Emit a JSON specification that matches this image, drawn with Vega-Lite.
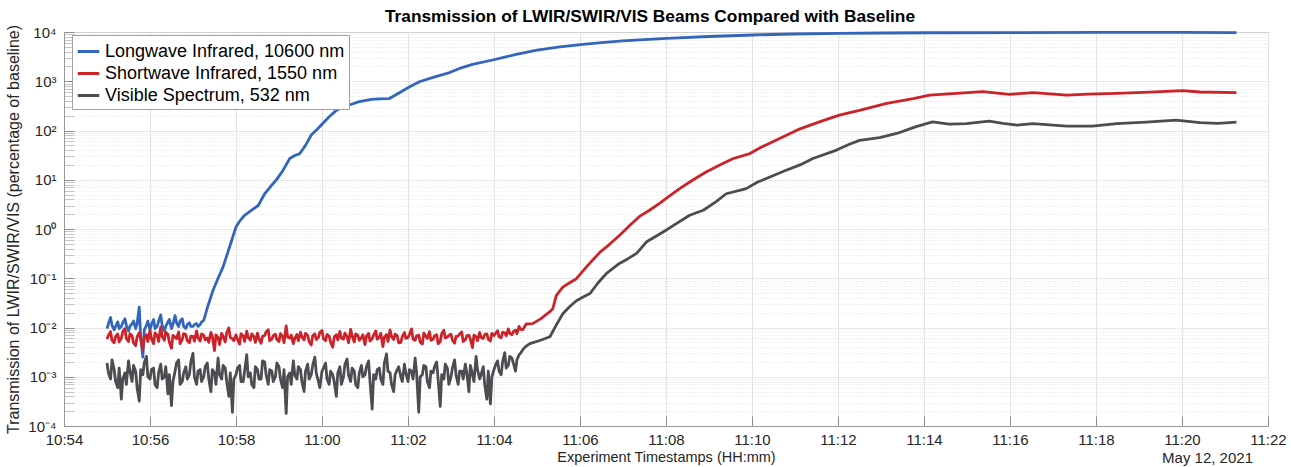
{
"$schema": "https://vega.github.io/schema/vega-lite/v6.json",
"width": 1204, "height": 394,
"autosize": {"type": "none"},
"padding": {"left": 64, "top": 32, "right": 23, "bottom": 41},
"background": "white",
"config": {"font": "Liberation Sans", "view": {"stroke": "#999999", "strokeWidth": 1}},
"title": {"text": "Transmission of LWIR/SWIR/VIS Beams Compared with Baseline", "fontSize": 17.3, "fontWeight": "bold", "color": "black", "anchor": "middle", "offset": -1, "dx": -16},
"layer": [
{
"data": {"values": [
{"t":"2021-05-12T10:55:00","L":0.0095,"S":0.0058,"V":0.0019},
{"t":"2021-05-12T10:55:05","L":0.016,"S":0.0082,"V":0.0009},
{"t":"2021-05-12T10:55:10","L":0.009,"S":0.0049,"V":0.0014},
{"t":"2021-05-12T10:55:15","L":0.013,"S":0.0074,"V":0.0006},
{"t":"2021-05-12T10:55:20","L":0.0105,"S":0.0061,"V":0.00035},
{"t":"2021-05-12T10:55:25","L":0.015,"S":0.0095,"V":0.0012},
{"t":"2021-05-12T10:55:30","L":0.0085,"S":0.0052,"V":0.0021},
{"t":"2021-05-12T10:55:35","L":0.012,"S":0.0068,"V":0.0008},
{"t":"2021-05-12T10:55:40","L":0.0095,"S":0.0043,"V":0.0013},
{"t":"2021-05-12T10:55:45","L":0.026,"S":0.0078,"V":0.00032},
{"t":"2021-05-12T10:55:50","L":0.0025,"S":0.0036,"V":0.0011},
{"t":"2021-05-12T10:55:55","L":0.011,"S":0.0071,"V":0.0026},
{"t":"2021-05-12T10:56:00","L":0.009,"S":0.0088,"V":0.0009},
{"t":"2021-05-12T10:56:05","L":0.0145,"S":0.0047,"V":0.0015},
{"t":"2021-05-12T10:56:10","L":0.0105,"S":0.0069,"V":0.0006},
{"t":"2021-05-12T10:56:15","L":0.018,"S":0.0102,"V":0.0018},
{"t":"2021-05-12T10:56:20","L":0.0085,"S":0.0055,"V":0.0010},
{"t":"2021-05-12T10:56:25","L":0.013,"S":0.0073,"V":0.00045},
{"t":"2021-05-12T10:56:30","L":0.0095,"S":0.0038,"V":0.00026},
{"t":"2021-05-12T10:56:35","L":0.0175,"S":0.0064,"V":0.0013},
{"t":"2021-05-12T10:56:40","L":0.0105,"S":0.0081,"V":0.0022},
{"t":"2021-05-12T10:56:45","L":0.015,"S":0.0057,"V":0.0008},
{"t":"2021-05-12T10:56:50","L":0.0095,"S":0.0072,"V":0.0016},
{"t":"2021-05-12T10:56:55","L":0.0125,"S":0.0049,"V":0.0011},
{"t":"2021-05-12T10:57:00","L":0.0105,"S":0.0066,"V":0.0030},
{"t":"2021-05-12T10:57:05","L":0.012,"S":0.0085,"V":0.0007},
{"t":"2021-05-12T10:57:10","L":0.0115,"S":0.0053,"V":0.0014},
{"t":"2021-05-12T10:57:15","L":0.014,"S":0.0070,"V":0.0010},
{"t":"2021-05-12T10:57:20","S":0.0061,"V":0.0019},
{"t":"2021-05-12T10:57:25","S":0.0079,"V":0.0005},
{"t":"2021-05-12T10:57:30","S":0.0034,"V":0.0012},
{"t":"2021-05-12T10:57:35","S":0.0062,"V":0.0024},
{"t":"2021-05-12T10:57:40","S":0.0076,"V":0.0009},
{"t":"2021-05-12T10:57:45","S":0.0051,"V":0.0015},
{"t":"2021-05-12T10:57:50","S":0.0098,"V":0.0004},
{"t":"2021-05-12T10:57:55","S":0.0059,"V":0.00019},
{"t":"2021-05-12T10:58:00","S":0.0071,"V":0.0011},
{"t":"2021-05-12T10:58:05","S":0.0046,"V":0.0017},
{"t":"2021-05-12T10:58:10","S":0.0068,"V":0.0008},
{"t":"2021-05-12T10:58:15","S":0.0084,"V":0.0028},
{"t":"2021-05-12T10:58:20","S":0.0055,"V":0.0012},
{"t":"2021-05-12T10:58:25","S":0.0065,"V":0.0006},
{"t":"2021-05-12T10:58:30","S":0.0077,"V":0.0014},
{"t":"2021-05-12T10:58:35","S":0.0048,"V":0.0009},
{"t":"2021-05-12T10:58:40","S":0.0069,"V":0.0020},
{"t":"2021-05-12T10:58:45","S":0.0090,"V":0.0007},
{"t":"2021-05-12T10:58:50","S":0.0058,"V":0.0013},
{"t":"2021-05-12T10:58:55","S":0.0073,"V":0.0010},
{"t":"2021-05-12T10:59:00","S":0.0052,"V":0.0016},
{"t":"2021-05-12T10:59:05","S":0.0066,"V":0.0006},
{"t":"2021-05-12T10:59:10","S":0.0108,"V":0.00018},
{"t":"2021-05-12T10:59:15","S":0.0061,"V":0.0012},
{"t":"2021-05-12T10:59:20","S":0.0047,"V":0.0021},
{"t":"2021-05-12T10:59:25","S":0.0072,"V":0.0009},
{"t":"2021-05-12T10:59:30","S":0.0080,"V":0.0014},
{"t":"2021-05-12T10:59:35","S":0.0056,"V":0.0005},
{"t":"2021-05-12T10:59:40","S":0.0069,"V":0.0018},
{"t":"2021-05-12T10:59:45","S":0.0044,"V":0.0011},
{"t":"2021-05-12T10:59:50","S":0.0074,"V":0.0025},
{"t":"2021-05-12T10:59:55","S":0.0063,"V":0.0008},
{"t":"2021-05-12T11:00:00","S":0.0087,"V":0.0013},
{"t":"2021-05-12T11:00:05","S":0.0054,"V":0.0019},
{"t":"2021-05-12T11:00:10","S":0.0067,"V":0.0007},
{"t":"2021-05-12T11:00:15","S":0.0040,"V":0.0011},
{"t":"2021-05-12T11:00:20","S":0.0071,"V":0.0004},
{"t":"2021-05-12T11:00:25","S":0.0083,"V":0.0016},
{"t":"2021-05-12T11:00:30","S":0.0058,"V":0.0010},
{"t":"2021-05-12T11:00:35","S":0.0065,"V":0.0023},
{"t":"2021-05-12T11:00:40","S":0.0092,"V":0.0008},
{"t":"2021-05-12T11:00:45","S":0.0051,"V":0.0013},
{"t":"2021-05-12T11:00:50","S":0.0070,"V":0.0006},
{"t":"2021-05-12T11:00:55","S":0.0062,"V":0.0017},
{"t":"2021-05-12T11:01:00","S":0.0045,"V":0.0011},
{"t":"2021-05-12T11:01:05","S":0.0076,"V":0.0021},
{"t":"2021-05-12T11:01:10","S":0.0059,"V":0.00022},
{"t":"2021-05-12T11:01:15","S":0.0085,"V":0.0009},
{"t":"2021-05-12T11:01:20","S":0.0064,"V":0.0015},
{"t":"2021-05-12T11:01:25","S":0.0041,"V":0.0007},
{"t":"2021-05-12T11:01:30","S":0.0072,"V":0.0029},
{"t":"2021-05-12T11:01:35","S":0.0089,"V":0.0012},
{"t":"2021-05-12T11:01:40","S":0.0057,"V":0.0005},
{"t":"2021-05-12T11:01:45","S":0.0068,"V":0.0014},
{"t":"2021-05-12T11:01:50","S":0.0050,"V":0.0010},
{"t":"2021-05-12T11:01:55","S":0.0079,"V":0.0018},
{"t":"2021-05-12T11:02:00","S":0.0063,"V":0.0008},
{"t":"2021-05-12T11:02:05","S":0.0094,"V":0.0013},
{"t":"2021-05-12T11:02:10","S":0.0055,"V":0.0024},
{"t":"2021-05-12T11:02:15","S":0.0070,"V":0.00019},
{"t":"2021-05-12T11:02:20","S":0.0046,"V":0.0011},
{"t":"2021-05-12T11:02:25","S":0.0066,"V":0.0016},
{"t":"2021-05-12T11:02:30","S":0.0082,"V":0.0006},
{"t":"2021-05-12T11:02:35","S":0.0058,"V":0.0012},
{"t":"2021-05-12T11:02:40","S":0.0071,"V":0.0020},
{"t":"2021-05-12T11:02:45","S":0.0052,"V":0.00025},
{"t":"2021-05-12T11:02:50","S":0.0088,"V":0.0009},
{"t":"2021-05-12T11:02:55","S":0.0064,"V":0.0015},
{"t":"2021-05-12T11:03:00","S":0.0073,"V":0.0010},
{"t":"2021-05-12T11:03:05","S":0.0048,"V":0.0022},
{"t":"2021-05-12T11:03:10","S":0.0067,"V":0.0007},
{"t":"2021-05-12T11:03:15","S":0.0081,"V":0.0013},
{"t":"2021-05-12T11:03:20","S":0.0056,"V":0.0018},
{"t":"2021-05-12T11:03:25","S":0.0070,"V":0.0005},
{"t":"2021-05-12T11:03:30","S":0.0039,"V":0.0011},
{"t":"2021-05-12T11:03:35","S":0.0065,"V":0.0026},
{"t":"2021-05-12T11:03:40","S":0.0079,"V":0.0009},
{"t":"2021-05-12T11:03:45","S":0.0060,"V":0.0016},
{"t":"2021-05-12T11:03:50","S":0.0074,"V":0.00035},
{"t":"2021-05-12T11:03:55","S":0.0053,"V":0.00028},
{"t":"2021-05-12T11:04:00","S":0.0069,"V":0.0014},
{"t":"2021-05-12T11:04:05","S":0.0086,"V":0.0021},
{"t":"2021-05-12T11:04:10","S":0.0062,"V":0.0011},
{"t":"2021-05-12T11:04:15","S":0.0078,"V":0.0031},
{"t":"2021-05-12T11:04:20","S":0.0094,"V":0.0017},
{"t":"2021-05-12T11:04:25","S":0.0071,"V":0.0024},
{"t":"2021-05-12T11:04:30","S":0.0088,"V":0.0013},
{"t":"2021-05-12T11:04:35","S":0.0105,"V":0.0028},
{"t":"2021-05-12T11:04:40","S":0.0090,"V":0.0035},
{"t":"2021-05-12T11:04:45","S":0.0118,"V":0.0042},
{"t":"2021-05-12T10:55:02","L":0.012,"S":0.0070,"V":0.0012},
{"t":"2021-05-12T10:55:07","L":0.011,"S":0.0055,"V":0.0022},
{"t":"2021-05-12T10:55:12","L":0.0105,"S":0.0066,"V":0.0008},
{"t":"2021-05-12T10:55:17","L":0.0095,"S":0.0051,"V":0.0015},
{"t":"2021-05-12T10:55:22","L":0.0125,"S":0.0083,"V":0.0009},
{"t":"2021-05-12T10:55:27","L":0.011,"S":0.0060,"V":0.0007},
{"t":"2021-05-12T10:55:32","L":0.0105,"S":0.0075,"V":0.0013},
{"t":"2021-05-12T10:55:37","L":0.0135,"S":0.0049,"V":0.0017},
{"t":"2021-05-12T10:55:42","L":0.012,"S":0.0065,"V":0.0006},
{"t":"2021-05-12T10:55:47","L":0.0065,"S":0.0058,"V":0.0014},
{"t":"2021-05-12T10:55:52","L":0.009,"S":0.0062,"V":0.0019},
{"t":"2021-05-12T10:55:57","L":0.0135,"S":0.0052,"V":0.0010},
{"t":"2021-05-12T10:56:02","L":0.0115,"S":0.0060,"V":0.0014},
{"t":"2021-05-12T10:56:07","L":0.0095,"S":0.0078,"V":0.0007},
{"t":"2021-05-12T10:56:12","L":0.0135,"S":0.0052,"V":0.0012},
{"t":"2021-05-12T10:56:17","L":0.011,"S":0.0066,"V":0.0009},
{"t":"2021-05-12T10:56:22","L":0.0105,"S":0.0080,"V":0.0016},
{"t":"2021-05-12T10:56:27","L":0.0145,"S":0.0050,"V":0.0011},
{"t":"2021-05-12T10:56:32","L":0.0115,"S":0.0069,"V":0.0008},
{"t":"2021-05-12T10:56:37","L":0.0125,"S":0.0059,"V":0.0019},
{"t":"2021-05-12T10:56:42","L":0.0135,"S":0.0047,"V":0.0007},
{"t":"2021-05-12T10:56:47","L":0.0105,"S":0.0075,"V":0.0012},
{"t":"2021-05-12T10:56:52","L":0.0115,"S":0.0054,"V":0.0009},
{"t":"2021-05-12T10:56:57","L":0.0105,"S":0.0067,"V":0.0020},
{"t":"2021-05-12T10:57:02","L":0.0115,"S":0.0053,"V":0.0010},
{"t":"2021-05-12T10:57:07","L":0.0105,"S":0.0062,"V":0.0013},
{"t":"2021-05-12T10:57:12","L":0.013,"S":0.0074,"V":0.0008},
{"t":"2021-05-12T10:57:17","S":0.0056,"V":0.0016},
{"t":"2021-05-12T10:57:22","S":0.0050,"V":0.0009},
{"t":"2021-05-12T10:57:27","S":0.0066,"V":0.0014},
{"t":"2021-05-12T10:57:32","S":0.0071,"V":0.0007},
{"t":"2021-05-12T10:57:37","S":0.0045,"V":0.0011},
{"t":"2021-05-12T10:57:42","S":0.0066,"V":0.0017},
{"t":"2021-05-12T10:57:47","S":0.0078,"V":0.0008},
{"t":"2021-05-12T10:57:52","S":0.0063,"V":0.0012},
{"t":"2021-05-12T10:57:57","S":0.0054,"V":0.0009},
{"t":"2021-05-12T10:58:02","S":0.0058,"V":0.0015},
{"t":"2021-05-12T10:58:07","S":0.0075,"V":0.0008},
{"t":"2021-05-12T10:58:12","S":0.0052,"V":0.0013},
{"t":"2021-05-12T10:58:17","S":0.0063,"V":0.0010},
{"t":"2021-05-12T10:58:22","S":0.0074,"V":0.0007},
{"t":"2021-05-12T10:58:27","S":0.0050,"V":0.0016},
{"t":"2021-05-12T10:58:32","S":0.0059,"V":0.0009},
{"t":"2021-05-12T10:58:37","S":0.0066,"V":0.0021},
{"t":"2021-05-12T10:58:42","S":0.0082,"V":0.0011},
{"t":"2021-05-12T10:58:47","S":0.0054,"V":0.0014},
{"t":"2021-05-12T10:58:52","S":0.0068,"V":0.0008},
{"t":"2021-05-12T10:58:57","S":0.0057,"V":0.0019},
{"t":"2021-05-12T10:59:02","S":0.0075,"V":0.0009},
{"t":"2021-05-12T10:59:07","S":0.0049,"V":0.0014},
{"t":"2021-05-12T10:59:12","S":0.0064,"V":0.0010},
{"t":"2021-05-12T10:59:17","S":0.0070,"V":0.0007},
{"t":"2021-05-12T10:59:22","S":0.0060,"V":0.0011},
{"t":"2021-05-12T10:59:27","S":0.0054,"V":0.0016},
{"t":"2021-05-12T10:59:32","S":0.0065,"V":0.0008},
{"t":"2021-05-12T10:59:37","S":0.0076,"V":0.0013},
{"t":"2021-05-12T10:59:42","S":0.0052,"V":0.0009},
{"t":"2021-05-12T10:59:47","S":0.0068,"V":0.0017},
{"t":"2021-05-12T10:59:52","S":0.0057,"V":0.0012},
{"t":"2021-05-12T10:59:57","S":0.0080,"V":0.0006},
{"t":"2021-05-12T11:00:02","S":0.0059,"V":0.0015},
{"t":"2021-05-12T11:00:07","S":0.0072,"V":0.0009},
{"t":"2021-05-12T11:00:12","S":0.0050,"V":0.0013},
{"t":"2021-05-12T11:00:17","S":0.0064,"V":0.0008},
{"t":"2021-05-12T11:00:22","S":0.0056,"V":0.0012},
{"t":"2021-05-12T11:00:27","S":0.0061,"V":0.0007},
{"t":"2021-05-12T11:00:32","S":0.0077,"V":0.0018},
{"t":"2021-05-12T11:00:37","S":0.0049,"V":0.0011},
{"t":"2021-05-12T11:00:42","S":0.0067,"V":0.0015},
{"t":"2021-05-12T11:00:47","S":0.0074,"V":0.0007},
{"t":"2021-05-12T11:00:52","S":0.0055,"V":0.0012},
{"t":"2021-05-12T11:00:57","S":0.0071,"V":0.0010},
{"t":"2021-05-12T11:01:02","S":0.0066,"V":0.0016},
{"t":"2021-05-12T11:01:07","S":0.0053,"V":0.0008},
{"t":"2021-05-12T11:01:12","S":0.0070,"V":0.0011},
{"t":"2021-05-12T11:01:17","S":0.0058,"V":0.0014},
{"t":"2021-05-12T11:01:22","S":0.0076,"V":0.0009},
{"t":"2021-05-12T11:01:27","S":0.0063,"V":0.0019},
{"t":"2021-05-12T11:01:32","S":0.0052,"V":0.0013},
{"t":"2021-05-12T11:01:37","S":0.0066,"V":0.0007},
{"t":"2021-05-12T11:01:42","S":0.0073,"V":0.0011},
{"t":"2021-05-12T11:01:47","S":0.0049,"V":0.0016},
{"t":"2021-05-12T11:01:52","S":0.0065,"V":0.0008},
{"t":"2021-05-12T11:01:57","S":0.0060,"V":0.0012},
{"t":"2021-05-12T11:02:02","S":0.0072,"V":0.0014},
{"t":"2021-05-12T11:02:07","S":0.0058,"V":0.0009},
{"t":"2021-05-12T11:02:12","S":0.0068,"V":0.0012},
{"t":"2021-05-12T11:02:17","S":0.0051,"V":0.0010},
{"t":"2021-05-12T11:02:22","S":0.0077,"V":0.0017},
{"t":"2021-05-12T11:02:27","S":0.0060,"V":0.0008},
{"t":"2021-05-12T11:02:32","S":0.0055,"V":0.0013},
{"t":"2021-05-12T11:02:37","S":0.0068,"V":0.0016},
{"t":"2021-05-12T11:02:42","S":0.0047,"V":0.0009},
{"t":"2021-05-12T11:02:47","S":0.0075,"V":0.0011},
{"t":"2021-05-12T11:02:52","S":0.0061,"V":0.0018},
{"t":"2021-05-12T11:02:57","S":0.0069,"V":0.0007},
{"t":"2021-05-12T11:03:02","S":0.0056,"V":0.0015},
{"t":"2021-05-12T11:03:07","S":0.0066,"V":0.0011},
{"t":"2021-05-12T11:03:12","S":0.0074,"V":0.0013},
{"t":"2021-05-12T11:03:17","S":0.0052,"V":0.0009},
{"t":"2021-05-12T11:03:22","S":0.0068,"V":0.0012},
{"t":"2021-05-12T11:03:27","S":0.0058,"V":0.0017},
{"t":"2021-05-12T11:03:32","S":0.0070,"V":0.0008},
{"t":"2021-05-12T11:03:37","S":0.0054,"V":0.0014},
{"t":"2021-05-12T11:03:42","S":0.0063,"V":0.0011},
{"t":"2021-05-12T11:03:47","S":0.0072,"V":0.0007},
{"t":"2021-05-12T11:03:52","S":0.0058,"V":0.0013},
{"t":"2021-05-12T11:03:57","S":0.0076,"V":0.0010},
{"t":"2021-05-12T11:04:02","S":0.0075,"V":0.0017},
{"t":"2021-05-12T11:04:07","S":0.0065,"V":0.0013},
{"t":"2021-05-12T11:04:12","S":0.0080,"V":0.0020},
{"t":"2021-05-12T11:04:17","S":0.0068,"V":0.0015},
{"t":"2021-05-12T11:04:22","S":0.0076,"V":0.0026},
{"t":"2021-05-12T11:04:27","S":0.0083,"V":0.0019},
{"t":"2021-05-12T11:04:32","S":0.0075,"V":0.0022},
{"t":"2021-05-12T11:04:37","S":0.0092,"V":0.0030},
{"t":"2021-05-12T11:04:42","S":0.0100,"V":0.0038},
{"t":"2021-05-12T10:57:21","L":0.028},
{"t":"2021-05-12T10:57:28","L":0.057},
{"t":"2021-05-12T10:57:35","L":0.1},
{"t":"2021-05-12T10:57:42","L":0.17},
{"t":"2021-05-12T10:57:51","L":0.43},
{"t":"2021-05-12T10:58:00","L":1.1},
{"t":"2021-05-12T10:58:06","L":1.5},
{"t":"2021-05-12T10:58:12","L":1.9},
{"t":"2021-05-12T10:58:20","L":2.3},
{"t":"2021-05-12T10:58:31","L":3.0},
{"t":"2021-05-12T10:58:40","L":5.2},
{"t":"2021-05-12T10:58:48","L":7.2},
{"t":"2021-05-12T10:58:56","L":9.8},
{"t":"2021-05-12T10:59:05","L":15},
{"t":"2021-05-12T10:59:15","L":27},
{"t":"2021-05-12T10:59:22","L":31},
{"t":"2021-05-12T10:59:29","L":34},
{"t":"2021-05-12T10:59:37","L":50},
{"t":"2021-05-12T10:59:45","L":81},
{"t":"2021-05-12T10:59:53","L":105},
{"t":"2021-05-12T11:00:01","L":139},
{"t":"2021-05-12T11:00:10","L":190},
{"t":"2021-05-12T11:00:20","L":256},
{"t":"2021-05-12T11:00:28","L":295},
{"t":"2021-05-12T11:00:38","L":330},
{"t":"2021-05-12T11:00:52","L":385},
{"t":"2021-05-12T11:01:09","L":430},
{"t":"2021-05-12T11:01:20","L":440},
{"t":"2021-05-12T11:01:34","L":445},
{"t":"2021-05-12T11:01:42","L":520},
{"t":"2021-05-12T11:01:51","L":620},
{"t":"2021-05-12T11:02:03","L":780},
{"t":"2021-05-12T11:02:16","L":975},
{"t":"2021-05-12T11:02:35","L":1200},
{"t":"2021-05-12T11:02:58","L":1500},
{"t":"2021-05-12T11:03:12","L":1820},
{"t":"2021-05-12T11:03:30","L":2200},
{"t":"2021-05-12T11:03:58","L":2700},
{"t":"2021-05-12T11:04:15","L":3100},
{"t":"2021-05-12T11:04:31","L":3500},
{"t":"2021-05-12T11:05:00","L":4300},
{"t":"2021-05-12T11:05:32","L":5000},
{"t":"2021-05-12T11:06:04","L":5600},
{"t":"2021-05-12T11:06:30","L":6100},
{"t":"2021-05-12T11:06:59","L":6600},
{"t":"2021-05-12T11:07:30","L":7000},
{"t":"2021-05-12T11:08:01","L":7400},
{"t":"2021-05-12T11:09:00","L":8100},
{"t":"2021-05-12T11:10:01","L":8700},
{"t":"2021-05-12T11:11:00","L":9100},
{"t":"2021-05-12T11:12:02","L":9400},
{"t":"2021-05-12T11:13:00","L":9550},
{"t":"2021-05-12T11:14:00","L":9650},
{"t":"2021-05-12T11:16:00","L":9750},
{"t":"2021-05-12T11:18:00","L":9800},
{"t":"2021-05-12T11:20:00","L":9800},
{"t":"2021-05-12T11:21:16","L":9750},
{"t":"2021-05-12T11:04:54","S":0.012},
{"t":"2021-05-12T11:05:05","S":0.015},
{"t":"2021-05-12T11:05:18","S":0.021},
{"t":"2021-05-12T11:05:22","S":0.024},
{"t":"2021-05-12T11:05:27","S":0.045},
{"t":"2021-05-12T11:05:36","S":0.066},
{"t":"2021-05-12T11:05:45","S":0.08},
{"t":"2021-05-12T11:05:55","S":0.098},
{"t":"2021-05-12T11:06:09","S":0.17},
{"t":"2021-05-12T11:06:28","S":0.34},
{"t":"2021-05-12T11:06:42","S":0.5},
{"t":"2021-05-12T11:06:55","S":0.74},
{"t":"2021-05-12T11:07:10","S":1.2},
{"t":"2021-05-12T11:07:23","S":1.8},
{"t":"2021-05-12T11:07:37","S":2.4},
{"t":"2021-05-12T11:07:51","S":3.3},
{"t":"2021-05-12T11:08:05","S":4.7},
{"t":"2021-05-12T11:08:19","S":6.6},
{"t":"2021-05-12T11:08:38","S":10},
{"t":"2021-05-12T11:08:56","S":14.4},
{"t":"2021-05-12T11:09:15","S":20},
{"t":"2021-05-12T11:09:34","S":27},
{"t":"2021-05-12T11:09:57","S":34},
{"t":"2021-05-12T11:10:12","S":45},
{"t":"2021-05-12T11:10:29","S":59},
{"t":"2021-05-12T11:10:48","S":80},
{"t":"2021-05-12T11:11:07","S":108},
{"t":"2021-05-12T11:11:34","S":150},
{"t":"2021-05-12T11:12:02","S":205},
{"t":"2021-05-12T11:12:30","S":256},
{"t":"2021-05-12T11:13:08","S":355},
{"t":"2021-05-12T11:13:45","S":445},
{"t":"2021-05-12T11:14:08","S":525},
{"t":"2021-05-12T11:14:40","S":560},
{"t":"2021-05-12T11:15:22","S":615},
{"t":"2021-05-12T11:15:59","S":540},
{"t":"2021-05-12T11:16:32","S":590},
{"t":"2021-05-12T11:17:19","S":525},
{"t":"2021-05-12T11:17:50","S":550},
{"t":"2021-05-12T11:18:29","S":565},
{"t":"2021-05-12T11:19:15","S":600},
{"t":"2021-05-12T11:20:01","S":645},
{"t":"2021-05-12T11:20:25","S":605},
{"t":"2021-05-12T11:21:16","S":590},
{"t":"2021-05-12T11:04:50","V":0.0047},
{"t":"2021-05-12T11:05:05","V":0.0055},
{"t":"2021-05-12T11:05:18","V":0.0065},
{"t":"2021-05-12T11:05:28","V":0.012},
{"t":"2021-05-12T11:05:36","V":0.019},
{"t":"2021-05-12T11:05:45","V":0.026},
{"t":"2021-05-12T11:05:55","V":0.035},
{"t":"2021-05-12T11:06:05","V":0.042},
{"t":"2021-05-12T11:06:14","V":0.049},
{"t":"2021-05-12T11:06:25","V":0.08},
{"t":"2021-05-12T11:06:37","V":0.126},
{"t":"2021-05-12T11:06:55","V":0.2},
{"t":"2021-05-12T11:07:07","V":0.25},
{"t":"2021-05-12T11:07:19","V":0.32},
{"t":"2021-05-12T11:07:33","V":0.55},
{"t":"2021-05-12T11:07:56","V":0.87},
{"t":"2021-05-12T11:08:15","V":1.3},
{"t":"2021-05-12T11:08:33","V":1.9},
{"t":"2021-05-12T11:08:52","V":2.4},
{"t":"2021-05-12T11:09:10","V":3.6},
{"t":"2021-05-12T11:09:24","V":5.2},
{"t":"2021-05-12T11:09:52","V":6.6},
{"t":"2021-05-12T11:10:08","V":9},
{"t":"2021-05-12T11:10:25","V":11.4},
{"t":"2021-05-12T11:10:45","V":15},
{"t":"2021-05-12T11:11:07","V":20},
{"t":"2021-05-12T11:11:25","V":27},
{"t":"2021-05-12T11:11:58","V":40},
{"t":"2021-05-12T11:12:15","V":52},
{"t":"2021-05-12T11:12:30","V":63},
{"t":"2021-05-12T11:12:58","V":72},
{"t":"2021-05-12T11:13:22","V":87},
{"t":"2021-05-12T11:13:49","V":120},
{"t":"2021-05-12T11:14:12","V":150},
{"t":"2021-05-12T11:14:35","V":135},
{"t":"2021-05-12T11:14:59","V":138},
{"t":"2021-05-12T11:15:31","V":155},
{"t":"2021-05-12T11:15:50","V":140},
{"t":"2021-05-12T11:16:10","V":129},
{"t":"2021-05-12T11:16:32","V":138},
{"t":"2021-05-12T11:17:00","V":128},
{"t":"2021-05-12T11:17:19","V":123},
{"t":"2021-05-12T11:17:55","V":123},
{"t":"2021-05-12T11:18:29","V":138},
{"t":"2021-05-12T11:19:10","V":148},
{"t":"2021-05-12T11:19:52","V":162},
{"t":"2021-05-12T11:20:25","V":145},
{"t":"2021-05-12T11:20:50","V":140},
{"t":"2021-05-12T11:21:16","V":148}
]},
"transform": [{"fold": ["L", "S", "V"], "as": ["s", "v"]}, {"filter": "isValid(datum.v)"}],
"mark": {"type": "line", "strokeWidth": 2.8, "strokeJoin": "round"},
"encoding": {
"x": {"field": "t", "type": "temporal",
 "scale": {"domain": [{"year": 2021, "month": 5, "date": 12, "hours": 10, "minutes": 54}, {"year": 2021, "month": 5, "date": 12, "hours": 11, "minutes": 22}]},
 "axis": {"title": "Experiment Timestamps (HH:mm)",
  "values": [{"year": 2021, "month": 5, "date": 12, "hours": 10, "minutes": 54}, {"year": 2021, "month": 5, "date": 12, "hours": 10, "minutes": 56}, {"year": 2021, "month": 5, "date": 12, "hours": 10, "minutes": 58}, {"year": 2021, "month": 5, "date": 12, "hours": 11, "minutes": 0}, {"year": 2021, "month": 5, "date": 12, "hours": 11, "minutes": 2}, {"year": 2021, "month": 5, "date": 12, "hours": 11, "minutes": 4}, {"year": 2021, "month": 5, "date": 12, "hours": 11, "minutes": 6}, {"year": 2021, "month": 5, "date": 12, "hours": 11, "minutes": 8}, {"year": 2021, "month": 5, "date": 12, "hours": 11, "minutes": 10}, {"year": 2021, "month": 5, "date": 12, "hours": 11, "minutes": 12}, {"year": 2021, "month": 5, "date": 12, "hours": 11, "minutes": 14}, {"year": 2021, "month": 5, "date": 12, "hours": 11, "minutes": 16}, {"year": 2021, "month": 5, "date": 12, "hours": 11, "minutes": 18}, {"year": 2021, "month": 5, "date": 12, "hours": 11, "minutes": 20}, {"year": 2021, "month": 5, "date": 12, "hours": 11, "minutes": 22}],
  "format": "%H:%M", "labelFontSize": 15, "labelColor": "#262626", "labelFlush": false, "labelOverlap": false, "grid": true, "gridColor": "#e3e3e3", "tickSize": -10, "tickColor": "#8c8c8c", "labelPadding": 16, "domainColor": "#999999", "titleFontSize": 14.5, "titleFontWeight": "normal", "titleColor": "#262626", "titlePadding": 3}},
"y": {"field": "v", "type": "quantitative",
 "scale": {"type": "log", "domain": [0.0001, 10000]},
 "axis": {"title": "Transmission of LWIR/SWIR/VIS (percentage of baseline)",
  "values": [0.0001,0.0002,0.0003,0.0004,0.0005,0.0006,0.0007,0.0008,0.0009,0.001,0.002,0.003,0.004,0.005,0.006,0.007,0.008,0.009,0.01,0.02,0.03,0.04,0.05,0.06,0.07,0.08,0.09,0.1,0.2,0.3,0.4,0.5,0.6,0.7,0.8,0.9,1,2,3,4,5,6,7,8,9,10,20,30,40,50,60,70,80,90,100,200,300,400,500,600,700,800,900,1000,2000,3000,4000,5000,6000,7000,8000,9000,10000],
  "labelExpr": "datum.value == 0.0001 ? '10⁻⁴' : datum.value == 0.001 ? '10⁻³' : datum.value == 0.01 ? '10⁻²' : datum.value == 0.1 ? '10⁻¹' : datum.value == 1 ? '10⁰' : datum.value == 10 ? '10¹' : datum.value == 100 ? '10²' : datum.value == 1000 ? '10³' : datum.value == 10000 ? '10⁴' : ''",
  "labelOverlap": false, "labelFlush": false, "labelFontSize": 15, "labelColor": "#262626", "labelPadding": 18,
  "grid": true,
  "gridColor": {"condition": {"test": "indexof([0.0001,0.001,0.01,0.1,1,10,100,1000,10000], datum.value) >= 0", "value": "#e0e0e0"}, "value": "#e2e2e2"},
  "gridDash": {"condition": {"test": "indexof([0.0001,0.001,0.01,0.1,1,10,100,1000,10000], datum.value) >= 0", "value": [1, 0]}, "value": [1, 2]},
  "tickColor": {"condition": {"test": "indexof([0.0001,0.001,0.01,0.1,1,10,100,1000,10000], datum.value) >= 0", "value": "#8c8c8c"}, "value": "#c4c4c4"},
  "tickSize": -10, "domainColor": "#999999",
  "titleFontSize": 16, "titleFontWeight": "normal", "titleColor": "#262626", "titlePadding": 6}},
"color": {"field": "s", "type": "nominal",
 "scale": {"domain": ["L", "S", "V"], "range": ["#3366BB", "#CC2229", "#4D4C50"]},
 "legend": {"orient": "none", "legendX": 8, "legendY": 3, "title": null, "fillColor": "white", "strokeColor": "#a0a0a0", "padding": 4, "labelFontSize": 18, "labelLimit": 400, "labelColor": "black", "symbolType": "stroke", "symbolSize": 462, "symbolStrokeWidth": 3, "labelOffset": 4, "rowPadding": 0,
  "labelExpr": "datum.label == 'L' ? 'Longwave Infrared, 10600 nm' : datum.label == 'S' ? 'Shortwave Infrared, 1550 nm' : 'Visible Spectrum, 532 nm'"}}
}
},
{
"data": {"values": [{"label": "May 12, 2021"}]},
"mark": {"type": "text", "align": "right", "baseline": "middle", "dx": -15, "dy": 32, "fontSize": 15, "color": "#262626", "clip": false},
"encoding": {
"x": {"datum": {"year": 2021, "month": 5, "date": 12, "hours": 11, "minutes": 22}, "type": "temporal"},
"y": {"datum": 0.0001, "type": "quantitative"},
"text": {"field": "label"}
}
}
]
}
